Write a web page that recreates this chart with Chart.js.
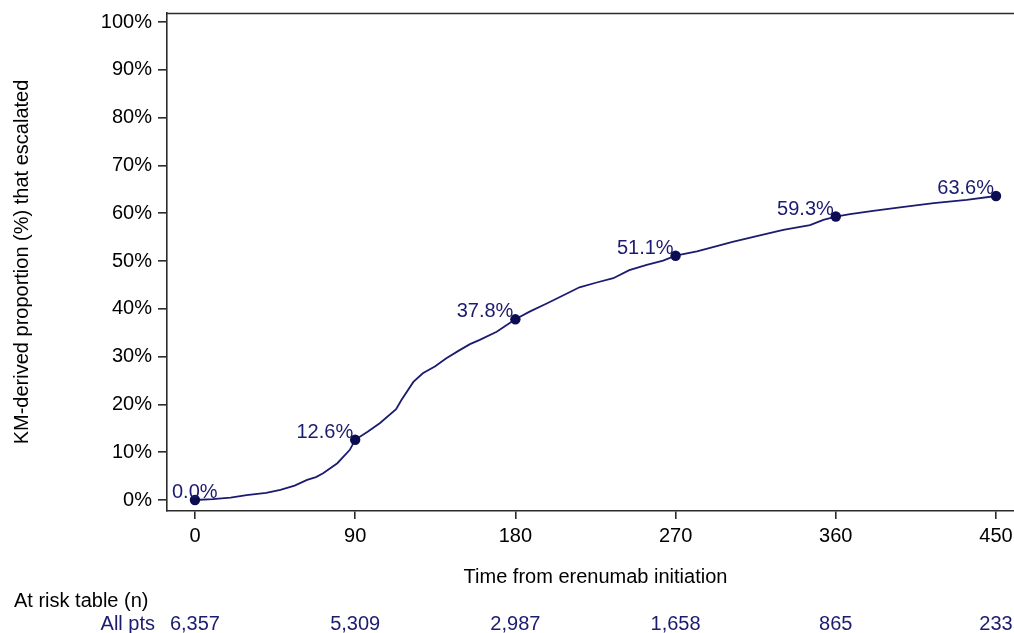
<!DOCTYPE html>
<html>
<head>
<meta charset="utf-8">
<title>Escalation after erenumab initiation</title>
<script src="https://cdn.jsdelivr.net/npm/chart.js@4/dist/chart.umd.min.js"></script>
<style>
  html, body { margin: 0; padding: 0; background: #ffffff; }
  #wrap { width: 1014px; height: 633px; }
</style>
</head>
<body>
<div id="wrap"><canvas id="km" width="1014" height="633"></canvas></div>
<script>
// Kaplan-Meier cumulative proportion escalated (%), by day since initiation
const kmDays = [0, 10, 20, 29, 40, 48, 56, 63, 68, 72, 80, 87, 90, 97, 104, 113, 116, 122.7, 128, 135, 141, 148, 154.5, 160, 169.5, 180, 188, 197.6, 209, 216, 225.7, 235, 244, 253.8, 263, 270, 282, 291, 302, 315.6, 330.5, 345.5, 353, 360, 368, 381, 396, 415, 433.5, 450];
const kmPct  = [0, 0.2, 0.5, 1.0, 1.5, 2.1, 3.0, 4.2, 4.8, 5.6, 7.7, 10.5, 12.6, 14.3, 16.1, 19.0, 20.9, 24.7, 26.5, 28.0, 29.6, 31.2, 32.6, 33.5, 35.2, 37.8, 39.4, 41.1, 43.2, 44.5, 45.5, 46.4, 48.1, 49.2, 50.1, 51.1, 52.0, 52.9, 54.0, 55.2, 56.5, 57.5, 58.6, 59.3, 59.8, 60.5, 61.2, 62.1, 62.8, 63.6];

// Labelled estimates at the 90-day landmarks
const markDays = [0, 90, 180, 270, 360, 450];
const markPct  = [0.0, 12.6, 37.8, 51.1, 59.3, 63.6];

// Axis ticks
const xTicks = [0, 90, 180, 270, 360, 450];
const yTicks = [0, 10, 20, 30, 40, 50, 60, 70, 80, 90, 100];

// Number at risk
const atRiskDays = [0, 90, 180, 270, 360, 450];
const atRiskN    = [6357, 5309, 2987, 1658, 865, 233];
const atRiskRow  = 'All pts';

const FONT = '"Liberation Sans", Arial, Helvetica, sans-serif';
const NAVY = '#1b1b6f';
const NAVY_DOT = '#0c0c52';
const AXIS = '#2b2b2b';

const annotate = {
  id: 'annotate',
  afterDraw(chart) {
    const ctx = chart.ctx;
    const area = chart.chartArea;
    const xs = chart.scales.x;
    const ys = chart.scales.y;
    ctx.save();

    // upper frame line
    ctx.strokeStyle = AXIS;
    ctx.lineWidth = 1.6;
    ctx.beginPath();
    ctx.moveTo(area.left, area.top + 0.5);
    ctx.lineTo(area.right, area.top + 0.5);
    ctx.stroke();

    // value labels above-left of each landmark marker
    ctx.font = '20px ' + FONT;
    ctx.fillStyle = NAVY;
    ctx.textBaseline = 'alphabetic';
    ctx.textAlign = 'left';
    markDays.forEach((d, i) => {
      const txt = markPct[i].toFixed(1) + '%';
      const px = xs.getPixelForValue(d);
      const py = ys.getPixelForValue(markPct[i]);
      const w = ctx.measureText(txt).width;
      const left = Math.max(px - 2 - w, area.left + 5);
      ctx.fillText(txt, left, py - 2);
    });

    // x-axis title, centred over the tick range
    ctx.fillStyle = '#000000';
    ctx.textAlign = 'center';
    ctx.textBaseline = 'middle';
    const mid = (xTicks[0] + xTicks[xTicks.length - 1]) / 2;
    ctx.fillText('Time from erenumab initiation', xs.getPixelForValue(mid), 577);

    // at-risk table
    ctx.textAlign = 'left';
    ctx.fillText('At risk table (n)', 14, 601);
    ctx.fillStyle = NAVY;
    ctx.textAlign = 'right';
    ctx.fillText(atRiskRow, 155, 624);
    ctx.textAlign = 'center';
    atRiskDays.forEach((d, i) => {
      ctx.fillText(atRiskN[i].toLocaleString('en-US'), xs.getPixelForValue(d), 624);
    });

    ctx.restore();
  }
};

new Chart(document.getElementById('km'), {
  type: 'scatter',
  data: {
    datasets: [
      {
        label: 'KM estimate',
        data: kmDays.map((d, i) => ({ x: d, y: kmPct[i] })),
        showLine: true,
        borderColor: NAVY,
        borderWidth: 1.8,
        pointRadius: 0,
        tension: 0,
        fill: false,
        order: 2
      },
      {
        label: 'Landmarks',
        data: markDays.map((d, i) => ({ x: d, y: markPct[i] })),
        showLine: false,
        pointRadius: 5.2,
        pointBackgroundColor: NAVY_DOT,
        pointBorderColor: NAVY_DOT,
        pointBorderWidth: 0,
        order: 1
      }
    ]
  },
  options: {
    responsive: false,
    animation: false,
    devicePixelRatio: 1,
    layout: { autoPadding: false, padding: { top: 13, right: 0, bottom: 0, left: 0 } },
    plugins: {
      legend: { display: false },
      tooltip: { enabled: false }
    },
    scales: {
      x: {
        type: 'linear',
        min: -15.7,
        max: 460.1,
        afterBuildTicks: s => { s.ticks = xTicks.map(v => ({ value: v })); },
        afterFit: s => { s.height = 122; s.paddingLeft = 0; s.paddingRight = 0; },
        border: { display: true, color: AXIS, width: 1.6 },
        grid: { drawOnChartArea: false, drawTicks: true, tickLength: 8, color: AXIS, lineWidth: 1.6 },
        ticks: { color: '#000000', font: { family: FONT, size: 20 }, padding: 5, maxRotation: 0, autoSkip: false }
      },
      y: {
        type: 'linear',
        min: -2.3,
        max: 101.88,
        afterBuildTicks: s => { s.ticks = yTicks.map(v => ({ value: v })); },
        afterFit: s => { s.width = 167; s.paddingTop = 0; s.paddingBottom = 0; },
        border: { display: true, color: AXIS, width: 1.6 },
        grid: { drawOnChartArea: false, drawTicks: true, tickLength: 9, color: AXIS, lineWidth: 1.6 },
        ticks: { color: '#000000', font: { family: FONT, size: 20 }, padding: 6, autoSkip: false, callback: v => v + '%' },
        title: {
          display: true,
          text: 'KM-derived proportion (%) that escalated',
          color: '#000000',
          font: { family: FONT, size: 20 },
          padding: { top: 10, bottom: 0 }
        }
      }
    }
  },
  plugins: [annotate]
});
</script>
</body>
</html>
